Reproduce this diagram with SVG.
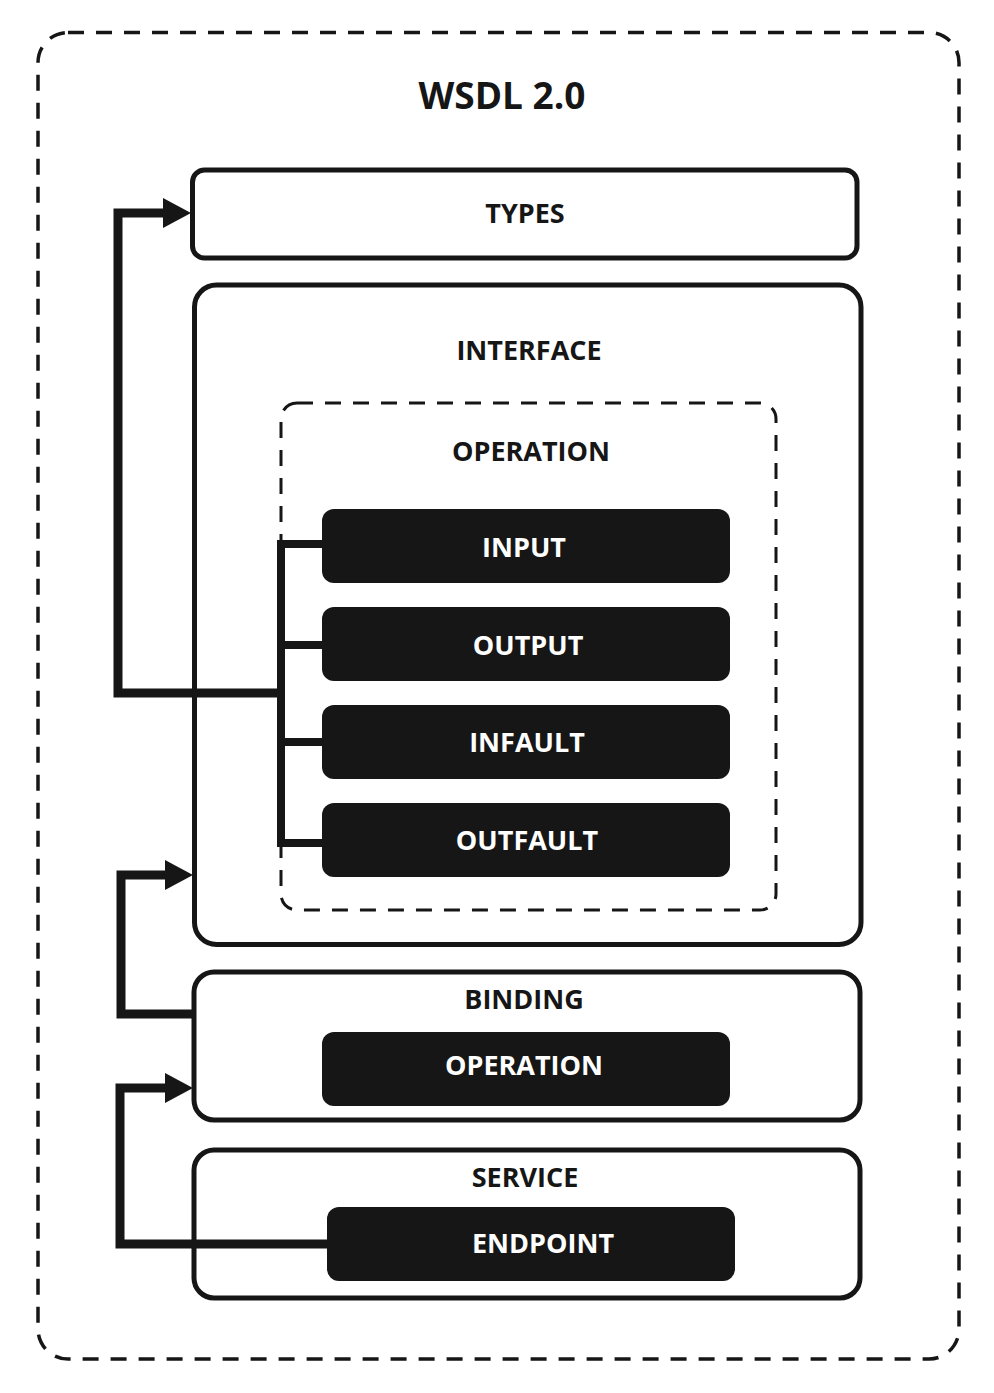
<svg xmlns="http://www.w3.org/2000/svg" width="994" height="1393" viewBox="0 0 994 1393">
<defs>
<style>
.t{font-family:"Open Sans","Liberation Sans",sans-serif;font-weight:bold;font-size:27px;text-anchor:middle;fill:#161616}
.w{fill:#ffffff}
.box{fill:#ffffff;stroke:#161616;stroke-width:5}
.blk{fill:#161616;stroke:none}
.dash{fill:none;stroke:#161616;stroke-dasharray:16 12}
.con{fill:none;stroke:#161616;stroke-width:9;stroke-linejoin:miter}
.br{fill:none;stroke:#161616;stroke-width:8}
</style>
<marker id="arr" markerUnits="userSpaceOnUse" markerWidth="28" markerHeight="30" refX="0" refY="15" orient="auto" viewBox="0 0 28 30">
<path d="M0,0 L28,15 L0,30 z" fill="#161616"/>
</marker>
</defs>
<rect width="994" height="1393" fill="#ffffff"/>
<g id="wsdl">
<rect class="dash" x="38" y="32.5" width="921" height="1326.5" rx="30" stroke-width="3.5"/>
<text class="t" x="502" y="109" style="font-size:37px">WSDL 2.0</text>
</g>
<g id="types">
<rect class="box" x="192.5" y="170" width="664.5" height="88" rx="12"/>
<text class="t" x="525" y="223">TYPES</text>
</g>
<g id="interface">
<rect class="box" x="194.5" y="285" width="666.5" height="659.5" rx="22"/>
<text class="t" x="529" y="360">INTERFACE</text>
</g>
<g id="operation">
<rect class="dash" x="281" y="403" width="495" height="507" rx="16" stroke-width="3"/>
<text class="t" x="531" y="461">OPERATION</text>
</g>
<g id="input">
<rect class="blk" x="322" y="509" width="408" height="74" rx="12"/>
<text class="t w" x="524" y="557">INPUT</text>
</g>
<g id="output">
<rect class="blk" x="322" y="607" width="408" height="74" rx="12"/>
<text class="t w" x="528" y="655">OUTPUT</text>
</g>
<g id="infault">
<rect class="blk" x="322" y="705" width="408" height="74" rx="12"/>
<text class="t w" x="527" y="752">INFAULT</text>
</g>
<g id="outfault">
<rect class="blk" x="322" y="803" width="408" height="74" rx="12"/>
<text class="t w" x="527" y="850">OUTFAULT</text>
</g>
<g id="binding">
<rect class="box" x="194" y="972" width="666" height="148" rx="20"/>
<text class="t" x="524" y="1009">BINDING</text>
</g>
<g id="binding-operation">
<rect class="blk" x="322" y="1032" width="408" height="74" rx="12"/>
<text class="t w" x="524" y="1075">OPERATION</text>
</g>
<g id="service">
<rect class="box" x="194" y="1150" width="666" height="148" rx="20"/>
<text class="t" x="525" y="1187">SERVICE</text>
</g>
<g id="endpoint">
<rect class="blk" x="327" y="1207" width="408" height="74" rx="12"/>
<text class="t w" x="543" y="1253">ENDPOINT</text>
</g>
<g id="connectors">
<path class="br" d="M322 544 H281 V843 H322 M281 645 H322 M281 742 H322"/>
<path class="con" d="M281 693 H118 V213 H163" marker-end="url(#arr)"/>
<path class="con" d="M194 1014 H121 V875 H165" marker-end="url(#arr)"/>
<path class="con" d="M327 1244 H120 V1088 H165" marker-end="url(#arr)"/>
</g>
</svg>
